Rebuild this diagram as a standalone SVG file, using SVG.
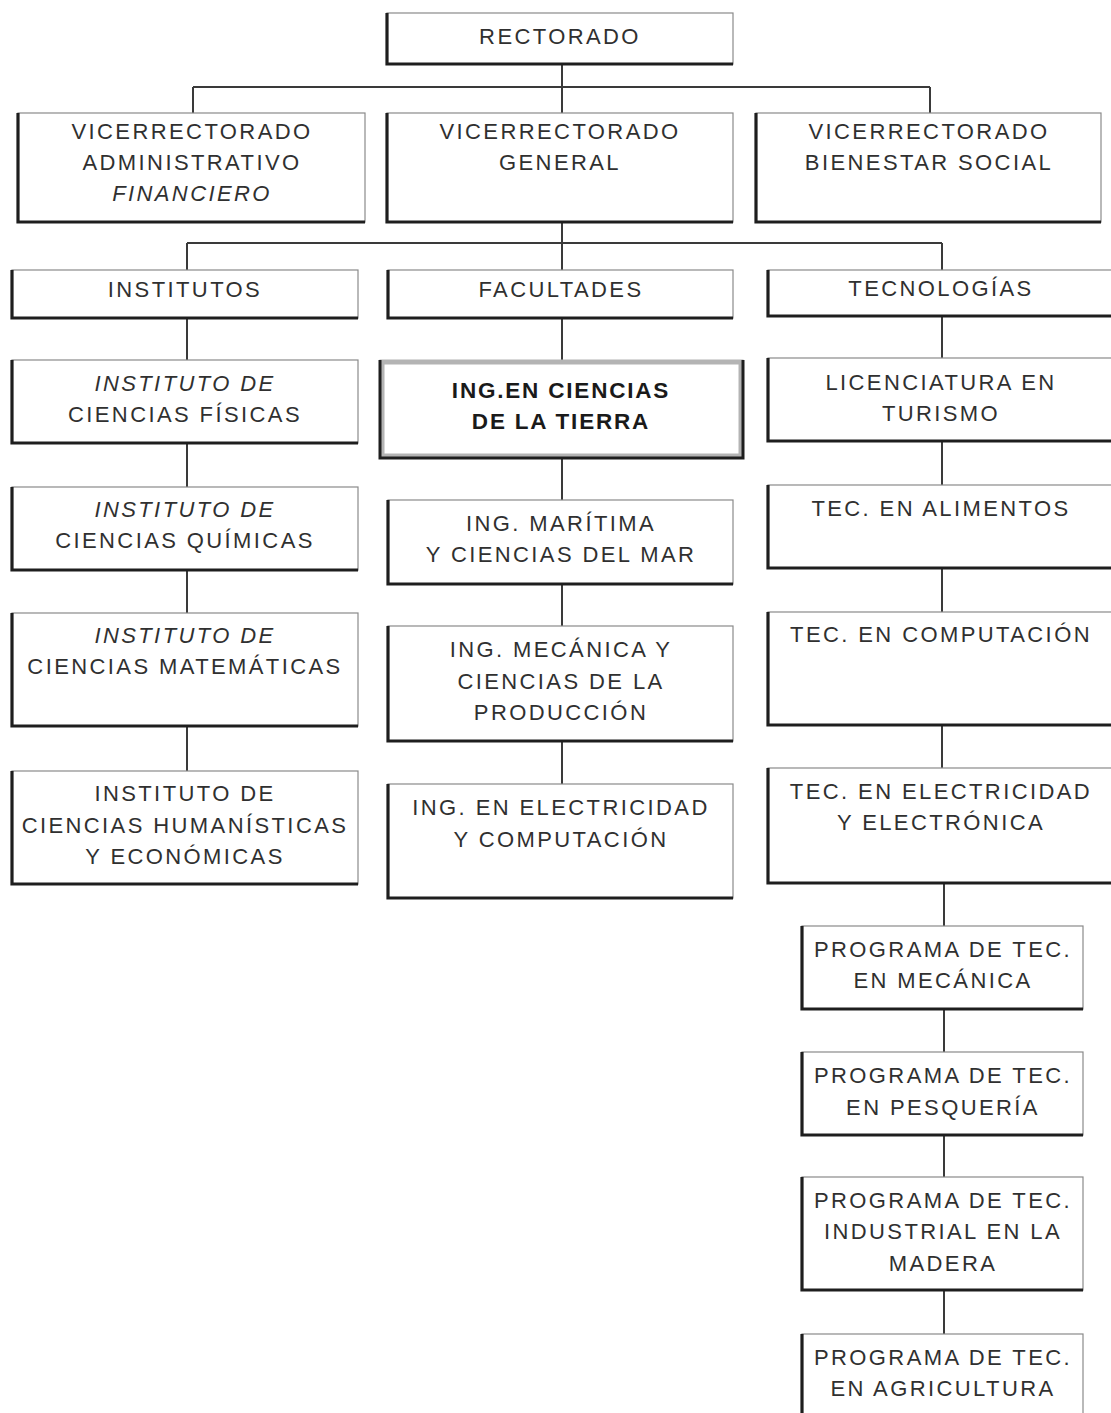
<svg xmlns="http://www.w3.org/2000/svg" width="1111" height="1413" viewBox="0 0 1111 1413">
  <style>
    .box { fill: #ffffff; stroke: #8a8a8a; stroke-width: 1.2; }
    .edge { fill: none; stroke: #1e1e1e; stroke-width: 3.2; }
    .hl { fill: #ffffff; stroke: #b4b4b4; stroke-width: 5; }
    .hledge { fill: none; stroke: #1e1e1e; stroke-width: 3; }
    .link { fill: none; stroke: #3a3a3a; stroke-width: 2; }
    text { font-family: "Liberation Sans", Arial, sans-serif; font-size: 22px; letter-spacing: 2.4px; fill: #303030; text-anchor: middle; }
    .it { font-style: italic; }
    .bold { font-weight: bold; font-size: 22.5px; letter-spacing: 1.8px; fill: #1a1a1a; }
  </style>

  <!-- connectors -->
  <g id="connectors">
    <path class="link" d="M562,64 V87 M193,87 H930 M193,87 V113 M562,87 V113 M930,87 V113"/>
    <path class="link" d="M562,222 V243 M187,243 H942 M187,243 V270 M562,243 V270 M942,243 V270"/>
    <path class="link" d="M187,318 V360 M187,443 V487 M187,570 V613 M187,726 V771"/>
    <path class="link" d="M562,318 V360 M562,458 V500 M562,584 V626 M562,741 V784"/>
    <path class="link" d="M942,316 V358 M942,441 V485 M942,568 V612 M942,725 V768 M944,883 V926 M944,1009 V1052 M944,1135 V1177 M944,1290 V1334"/>
  </g>

  <!-- top level -->
  <g id="rectorado">
    <rect class="box" x="387" y="13" width="346" height="51"/>
    <path class="edge" d="M387,13 V64 H733"/>
    <text x="560" y="44">RECTORADO</text>
  </g>

  <!-- vice-rectorates -->
  <g id="vr-administrativo">
    <rect class="box" x="18" y="113" width="347" height="109"/>
    <path class="edge" d="M18,113 V222 H365"/>
    <text x="192" y="139">VICERRECTORADO</text>
    <text x="192" y="170">ADMINISTRATIVO</text>
    <text x="192" y="201" class="it">FINANCIERO</text>
  </g>
  <g id="vr-general">
    <rect class="box" x="387" y="113" width="346" height="109"/>
    <path class="edge" d="M387,113 V222 H733"/>
    <text x="560" y="139">VICERRECTORADO</text>
    <text x="560" y="170">GENERAL</text>
  </g>
  <g id="vr-bienestar">
    <rect class="box" x="756" y="113" width="345" height="109"/>
    <path class="edge" d="M756,113 V222 H1101"/>
    <text x="929" y="139">VICERRECTORADO</text>
    <text x="929" y="170">BIENESTAR SOCIAL</text>
  </g>

  <!-- divisions -->
  <g id="institutos">
    <rect class="box" x="12" y="270" width="346" height="48"/>
    <path class="edge" d="M12,270 V318 H358"/>
    <text x="185" y="297">INSTITUTOS</text>
  </g>
  <g id="facultades">
    <rect class="box" x="388" y="270" width="345" height="48"/>
    <path class="edge" d="M388,270 V318 H733"/>
    <text x="561" y="297">FACULTADES</text>
  </g>
  <g id="tecnologias">
    <rect class="box" x="768" y="270" width="350" height="46"/>
    <path class="edge" d="M768,270 V316 H1118"/>
    <text x="941" y="296">TECNOLOGÍAS</text>
  </g>

  <!-- institutes -->
  <g id="inst-fisicas">
    <rect class="box" x="12" y="360" width="346" height="83"/>
    <path class="edge" d="M12,360 V443 H358"/>
    <text x="185" y="391" class="it">INSTITUTO DE</text>
    <text x="185" y="422">CIENCIAS FÍSICAS</text>
  </g>
  <g id="inst-quimicas">
    <rect class="box" x="12" y="487" width="346" height="83"/>
    <path class="edge" d="M12,487 V570 H358"/>
    <text x="185" y="517" class="it">INSTITUTO DE</text>
    <text x="185" y="548">CIENCIAS QUÍMICAS</text>
  </g>
  <g id="inst-matematicas">
    <rect class="box" x="12" y="613" width="346" height="113"/>
    <path class="edge" d="M12,613 V726 H358"/>
    <text x="185" y="643" class="it">INSTITUTO DE</text>
    <text x="185" y="674">CIENCIAS MATEMÁTICAS</text>
  </g>
  <g id="inst-humanisticas">
    <rect class="box" x="12" y="771" width="346" height="113"/>
    <path class="edge" d="M12,771 V884 H358"/>
    <text x="185" y="801">INSTITUTO DE</text>
    <text x="185" y="833">CIENCIAS HUMANÍSTICAS</text>
    <text x="185" y="864">Y ECONÓMICAS</text>
  </g>

  <!-- faculties -->
  <g id="fac-tierra">
    <rect class="hl" x="382" y="362" width="359" height="94"/>
    <path class="hledge" d="M380,360 V458 H743 V360"/>
    <text x="561" y="398" class="bold">ING.EN CIENCIAS</text>
    <text x="561" y="429" class="bold">DE LA TIERRA</text>
  </g>
  <g id="fac-maritima">
    <rect class="box" x="388" y="500" width="345" height="84"/>
    <path class="edge" d="M388,500 V584 H733"/>
    <text x="561" y="531">ING. MARÍTIMA</text>
    <text x="561" y="562">Y CIENCIAS DEL MAR</text>
  </g>
  <g id="fac-mecanica">
    <rect class="box" x="388" y="626" width="345" height="115"/>
    <path class="edge" d="M388,626 V741 H733"/>
    <text x="561" y="657">ING. MECÁNICA Y</text>
    <text x="561" y="689">CIENCIAS DE LA</text>
    <text x="561" y="720">PRODUCCIÓN</text>
  </g>
  <g id="fac-electricidad">
    <rect class="box" x="388" y="784" width="345" height="114"/>
    <path class="edge" d="M388,784 V898 H733"/>
    <text x="561" y="815">ING. EN ELECTRICIDAD</text>
    <text x="561" y="847">Y COMPUTACIÓN</text>
  </g>

  <!-- technologies -->
  <g id="lic-turismo">
    <rect class="box" x="768" y="358" width="350" height="83"/>
    <path class="edge" d="M768,358 V441 H1118"/>
    <text x="941" y="390">LICENCIATURA EN</text>
    <text x="941" y="421">TURISMO</text>
  </g>
  <g id="tec-alimentos">
    <rect class="box" x="768" y="485" width="350" height="83"/>
    <path class="edge" d="M768,485 V568 H1118"/>
    <text x="941" y="516">TEC. EN ALIMENTOS</text>
  </g>
  <g id="tec-computacion">
    <rect class="box" x="768" y="612" width="350" height="113"/>
    <path class="edge" d="M768,612 V725 H1118"/>
    <text x="941" y="642">TEC. EN COMPUTACIÓN</text>
  </g>
  <g id="tec-electricidad">
    <rect class="box" x="768" y="768" width="350" height="115"/>
    <path class="edge" d="M768,768 V883 H1118"/>
    <text x="941" y="799">TEC. EN ELECTRICIDAD</text>
    <text x="941" y="830">Y ELECTRÓNICA</text>
  </g>

  <!-- technology programmes -->
  <g id="prog-mecanica">
    <rect class="box" x="802" y="926" width="281" height="83"/>
    <path class="edge" d="M802,926 V1009 H1083"/>
    <text x="943" y="957">PROGRAMA DE TEC.</text>
    <text x="943" y="988">EN MECÁNICA</text>
  </g>
  <g id="prog-pesqueria">
    <rect class="box" x="802" y="1052" width="281" height="83"/>
    <path class="edge" d="M802,1052 V1135 H1083"/>
    <text x="943" y="1083">PROGRAMA DE TEC.</text>
    <text x="943" y="1115">EN PESQUERÍA</text>
  </g>
  <g id="prog-madera">
    <rect class="box" x="802" y="1177" width="281" height="113"/>
    <path class="edge" d="M802,1177 V1290 H1083"/>
    <text x="943" y="1208">PROGRAMA DE TEC.</text>
    <text x="943" y="1239">INDUSTRIAL EN LA</text>
    <text x="943" y="1271">MADERA</text>
  </g>
  <g id="prog-agricultura">
    <rect class="box" x="802" y="1334" width="281" height="90"/>
    <path class="edge" d="M802,1334 V1424"/>
    <text x="943" y="1365">PROGRAMA DE TEC.</text>
    <text x="943" y="1396">EN AGRICULTURA</text>
  </g>
</svg>
